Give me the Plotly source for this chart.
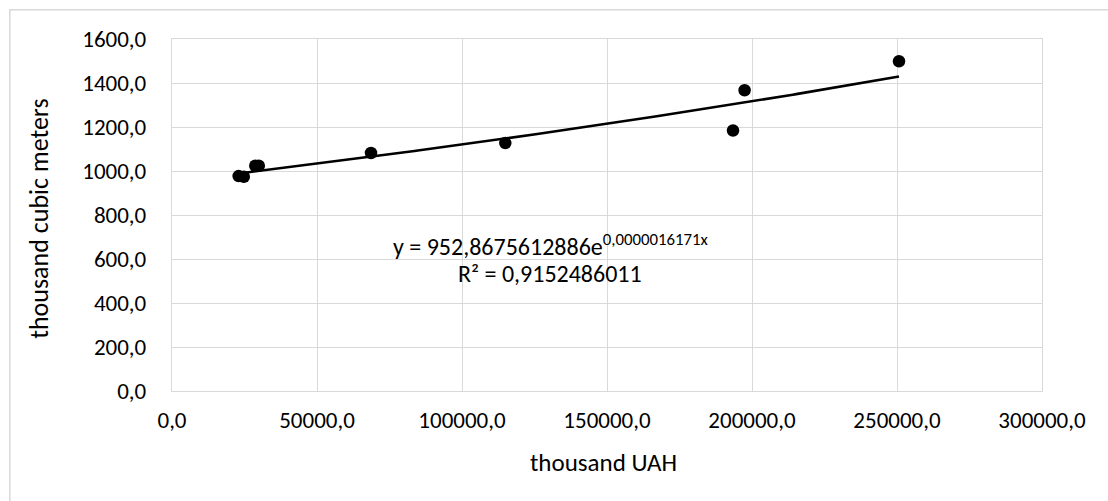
import numpy as np
import plotly.graph_objects as go

# Observations: cost (thousand UAH) vs volume (thousand cubic meters)
cost_th_uah = [22970, 24760, 28720, 29930, 68620, 114930, 193450, 197450, 250690]
volume_th_m3 = [977, 974, 1024, 1024, 1082, 1127, 1184, 1367, 1499]

# Exponential trendline coefficients: y = a * e^(b x)
trend_a = 952.8675612886
trend_b = 0.0000016171
trend_r2 = 0.9152486011

x_ticks = [0, 50000, 100000, 150000, 200000, 250000, 300000]
x_tick_text = ["0,0", "50000,0", "100000,0", "150000,0", "200000,0", "250000,0", "300000,0"]
y_ticks = [0, 200, 400, 600, 800, 1000, 1200, 1400, 1600]
y_tick_text = ["0,0", "200,0", "400,0", "600,0", "800,0", "1000,0", "1200,0", "1400,0", "1600,0"]

FONT = "Calibri, Carlito, Lato, sans-serif"
GRID = "#d9d9d9"

W, H = 1108, 501
L, R, T, B = 171.7, 66.3, 38.7, 110.3
pw = W - L - R
ph = H - T - B


def px_x(p):
    return (p - L) / pw


def px_y(p):
    return (H - B - p) / ph


tx = np.linspace(min(cost_th_uah), max(cost_th_uah), 200)
ty = trend_a * np.exp(trend_b * tx)

fig = go.Figure()
fig.add_trace(go.Scatter(
    x=tx, y=ty, mode="lines",
    line=dict(color="black", width=2.6),
    hoverinfo="skip", showlegend=False,
))
fig.add_trace(go.Scatter(
    x=cost_th_uah, y=volume_th_m3, mode="markers",
    marker=dict(color="black", size=12.5),
    showlegend=False,
))


def fmt(v, d):
    return f"{v:.{d}f}".replace(".", ",")


# Trendline equation and R²
fig.add_annotation(
    x=130450, y=662, xref="x", yref="y", showarrow=False,
    text=f"y = {fmt(trend_a, 10)}e<sup>{fmt(trend_b, 10)}x</sup>",
    font=dict(family=FONT, size=24, color="#000000"),
)
fig.add_annotation(
    x=130450, y=535, xref="x", yref="y", showarrow=False,
    text=f"R² = {fmt(trend_r2, 10)}",
    font=dict(family=FONT, size=24, color="#000000"),
)

# Axis titles
fig.add_annotation(
    x=px_x(603), y=px_y(462), xref="paper", yref="paper", showarrow=False,
    xanchor="center", yanchor="middle",
    text="thousand UAH", font=dict(family=FONT, size=25, color="#000000"),
)
fig.add_annotation(
    x=px_x(38), y=0.49, xref="paper", yref="paper", showarrow=False,
    xanchor="center", yanchor="middle", textangle=-90,
    text="thousand cubic meters", font=dict(family=FONT, size=26, color="#000000"),
)

# Chart-area border
fig.add_shape(
    type="rect", xref="paper", yref="paper",
    x0=px_x(9.5), x1=px_x(W + 20),
    y0=px_y(H + 20), y1=px_y(9.5),
    line=dict(color=GRID, width=1.5), fillcolor="rgba(0,0,0,0)", layer="below",
)

fig.update_layout(
    width=W, height=H,
    margin=dict(l=L, r=R, t=T, b=B, pad=0),
    paper_bgcolor="white", plot_bgcolor="white",
    font=dict(family=FONT, size=23, color="#000000"),
    xaxis=dict(
        range=[0, 300000], tickvals=x_ticks, ticktext=x_tick_text,
        showgrid=True, gridcolor=GRID, gridwidth=1.3, zeroline=False,
        showline=True, linecolor=GRID, linewidth=1.3, mirror=True,
        ticks="outside", ticklen=8, tickcolor="rgba(0,0,0,0)",
    ),
    yaxis=dict(
        range=[0, 1600], tickvals=y_ticks, ticktext=y_tick_text,
        showgrid=True, gridcolor=GRID, gridwidth=1.3, zeroline=False,
        showline=True, linecolor=GRID, linewidth=1.3, mirror=True,
        ticks="outside", ticklen=20, tickcolor="rgba(0,0,0,0)",
    ),
)

fig.write_html("out.html")
